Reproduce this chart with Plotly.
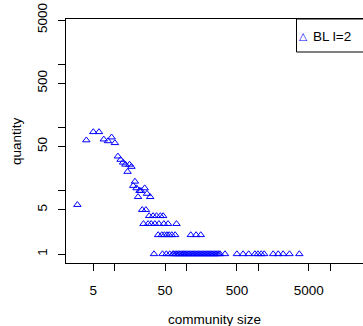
import plotly.graph_objects as go

# community size vs quantity (number of communities of that size)
sizes = [3, 4, 5, 6, 7, 8, 9, 10,
         11, 12, 13, 14, 15, 16, 17,
         18, 19, 20, 21, 22, 23, 26, 28, 31,
         24, 27,
         30, 34, 38, 43, 47,
         25, 29, 32, 36, 41, 48, 55, 72,
         40, 45, 49, 53, 57, 62, 69, 114, 135, 157,
         35, 46, 52, 58, 64,
         66, 70, 73, 77, 80, 84, 88, 91, 95, 99, 104, 108, 113, 118, 123, 128,
         134, 140, 146, 152, 159, 166, 173, 181, 189, 197, 206, 215, 224, 234,
         245, 256, 267, 279, 291,
         341, 500, 610, 730, 890, 980, 1090, 1200, 1600, 1880, 2200, 2700, 3700]
counts = [6, 63, 85, 85, 65, 61, 70, 57,
          35, 31, 28, 26, 20, 26, 24,
          12, 14, 11, 8, 10, 10, 11, 9, 8,
          5, 5,
          4, 4, 4, 4, 4,
          3, 3, 3, 3, 3, 3, 3, 3,
          2, 2, 2, 2, 2, 2, 2, 2, 2, 2,
          1, 1, 1, 1, 1,
          1, 1, 1, 1, 1, 1, 1, 1, 1, 1, 1, 1, 1, 1, 1, 1,
          1, 1, 1, 1, 1, 1, 1, 1, 1, 1, 1, 1, 1, 1,
          1, 1, 1, 1, 1,
          1, 1, 1, 1, 1, 1, 1, 1, 1, 1, 1, 1, 1]

x_tickvals = [5, 10, 50, 100, 500, 1000, 5000, 10000]
x_ticktext = ["5", "", "50", "", "500", "", "5000", ""]
y_tickvals = [1, 5, 10, 50, 100, 500, 1000, 5000]
y_ticktext = ["1", "5", "", "50", "", "500", "", "5000"]

series_name = "BL l=2"
x_title = "community size"
y_title = "quantity"

FONT = "Liberation Sans, Arial, Helvetica, sans-serif"
W, H = 363, 326
L, R, T, B = 66, 0, 19, 63
pw, ph = W - L - R, H - T - B


def px_x(p):
    return (p - L) / pw


def px_y(p):
    return (H - B - p) / ph


fig = go.Figure()
fig.add_trace(go.Scatter(
    x=sizes, y=counts, mode="markers", name=series_name, showlegend=False,
    marker=dict(symbol="triangle-up-open", size=6.5, color="#0000ff",
                line=dict(width=1, color="#0000ff")),
))

fig.update_layout(
    width=W, height=H,
    margin=dict(l=L, r=R, t=T, b=B, autoexpand=False),
    plot_bgcolor="white", paper_bgcolor="white",
    font=dict(family=FONT, size=13.5, color="black"),
)
fig.update_xaxes(
    type="log", range=[0.319, 4.455],
    tickmode="array", tickvals=x_tickvals, ticktext=x_ticktext,
    ticks="outside", ticklen=7, tickwidth=1, tickcolor="black",
    ticklabelstandoff=8,
    showline=True, linecolor="black", linewidth=1, mirror=True,
    showgrid=False, zeroline=False,
    tickfont=dict(family=FONT, size=13.5, color="black"),
)
fig.update_yaxes(
    type="log", range=[-0.142, 3.715],
    tickmode="array", tickvals=y_tickvals, ticktext=y_ticktext,
    tickangle=-90,
    ticks="outside", ticklen=7, tickwidth=1, tickcolor="black",
    ticklabelstandoff=6,
    showline=True, linecolor="black", linewidth=1, mirror=False,
    showgrid=False, zeroline=False,
    tickfont=dict(family=FONT, size=13.5, color="black"),
)

# axis titles
fig.add_annotation(text=x_title, xref="paper", yref="paper",
                   x=px_x(214.5), y=px_y(319.5), xanchor="center", yanchor="middle",
                   showarrow=False, font=dict(family=FONT, size=13.5, color="black"))
fig.add_annotation(text=y_title, xref="paper", yref="paper",
                   x=px_x(16), y=px_y(141), xanchor="center", yanchor="middle",
                   textangle=-90, showarrow=False,
                   font=dict(family=FONT, size=13.5, color="black"))

# legend box (top-right, cut by the page edge as in the reference)
fig.add_shape(type="rect", xref="paper", yref="paper",
              x0=px_x(296.5), x1=1.1, y0=px_y(52), y1=1.0,
              line=dict(color="black", width=1), fillcolor="white", layer="above")
fig.add_annotation(text="\u25b3", xref="paper", yref="paper",
                   x=px_x(303), y=px_y(36), xanchor="center", yanchor="middle",
                   showarrow=False,
                   font=dict(family="DejaVu Sans", size=10.5, color="#0000ff"))
fig.add_annotation(text=series_name, xref="paper", yref="paper",
                   x=px_x(311), y=px_y(36), xanchor="left", yanchor="middle",
                   showarrow=False, font=dict(family=FONT, size=13.5, color="black"))

fig.write_html("out.html")
